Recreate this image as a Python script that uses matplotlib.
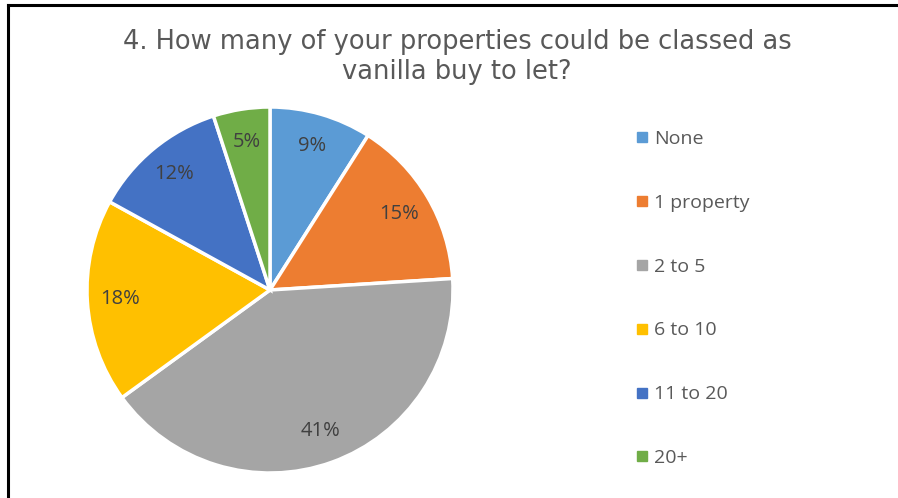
import matplotlib
matplotlib.use("Agg")
import matplotlib.pyplot as plt
from matplotlib.lines import Line2D

categories = ["None", "1 property", "2 to 5", "6 to 10", "11 to 20", "20+"]
shares = [9, 15, 41, 18, 12, 5]
colors = ["#5B9BD5", "#ED7D31", "#A5A5A5", "#FFC000", "#4472C4", "#70AD47"]
title = "4. How many of your properties could be classed as\nvanilla buy to let?"

plt.rcParams["font.family"] = ["Open Sans", "DejaVu Sans"]

fig = plt.figure(figsize=(8.98, 4.98), dpi=100)
fig.patch.set_facecolor("white")

# pie axes: centre ~ (270, 290) px, radius ~183 px
r = 183
cx, cy = 270, 290
W, H = 898, 498
ax = fig.add_axes([(cx - r) / W, (H - cy - r) / H, 2 * r / W, 2 * r / H])
wedges, texts, autotexts = ax.pie(
    shares, colors=colors, startangle=90, counterclock=False,
    autopct=lambda p: f"{p:.0f}%", pctdistance=0.82,
    wedgeprops=dict(edgecolor="white", linewidth=2.5),
    textprops=dict(color="#404040", fontsize=14.5),
    radius=1.0)
ax.set_xlim(-1, 1)
ax.set_ylim(-1, 1)
ax.set_aspect("equal")
ax.axis("off")

fig.text(457 / W, 1 - 57 / H, title, ha="center", va="center",
         fontsize=18.5, color="#595959", linespacing=1.18,
         family="DejaVu Sans")

# legend
handles = [Line2D([0], [0], marker="s", linestyle="none", markersize=6.5,
                  markerfacecolor=c, markeredgecolor=c) for c in colors]
leg = fig.legend(handles, categories, loc="upper left",
                 bbox_to_anchor=(627 / W, 1 - 122 / H), frameon=False,
                 fontsize=14, labelcolor="#595959", handlelength=0.7,
                 handletextpad=0.3, labelspacing=2.36, borderaxespad=0)

# top and left frame lines
fig.add_artist(Line2D([7.5 / W, 1.0], [1 - 5.5 / H, 1 - 5.5 / H],
                      transform=fig.transFigure, color="black", linewidth=2.2))
fig.add_artist(Line2D([7.5 / W, 7.5 / W], [0, 1 - 5.5 / H],
                      transform=fig.transFigure, color="black", linewidth=2.2))

fig.savefig("out.png", dpi=100, facecolor="white")
